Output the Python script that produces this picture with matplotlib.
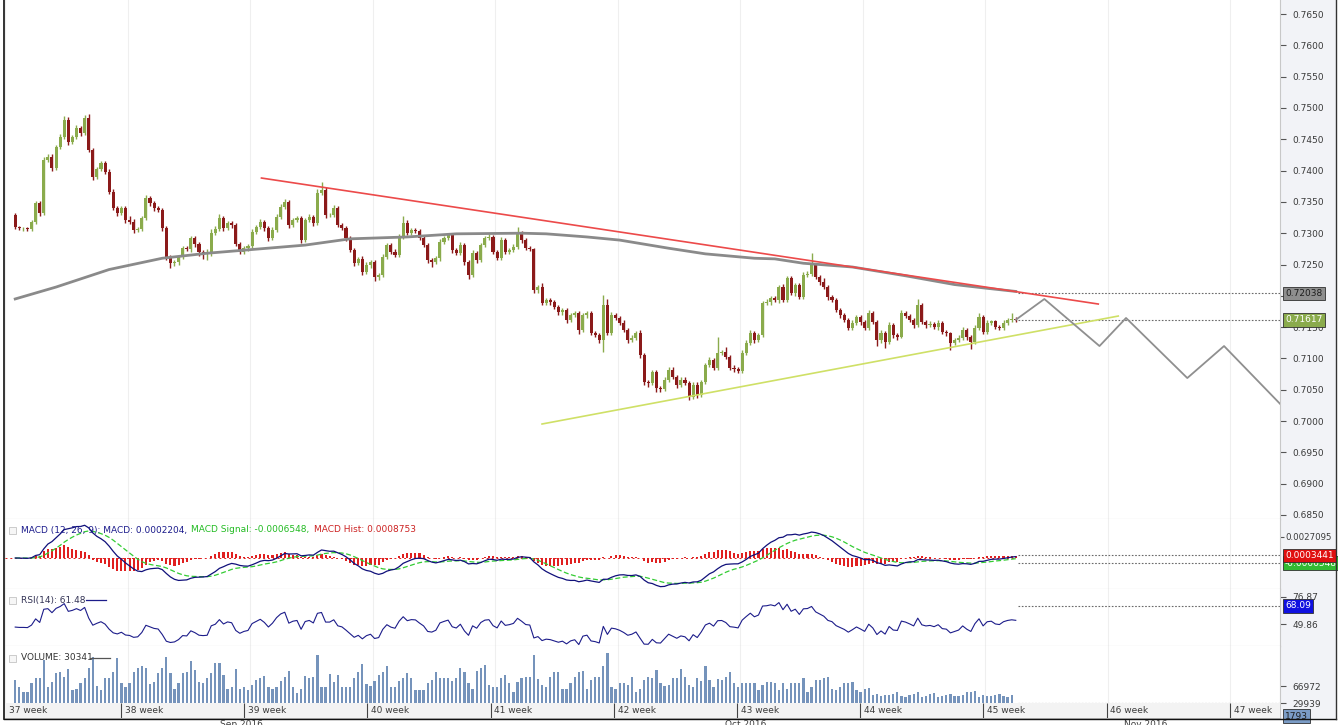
import numpy as np
import pandas as pd
import matplotlib
matplotlib.use("Agg")
import matplotlib.pyplot as plt
import matplotlib.transforms as mtransforms
from matplotlib.patches import Rectangle
from matplotlib.lines import Line2D

# 4H candles, prices in pips (x 1e-4)
first_open = 7329
closes = [
    7310, 7308, 7308, 7307, 7318, 7348, 7332, 7417, 7422, 7404,
    7438, 7454, 7481, 7446, 7454, 7468, 7460, 7484, 7433, 7390,
    7402, 7412, 7398, 7366, 7340, 7332, 7340, 7321, 7318, 7305,
    7307, 7324, 7356, 7348, 7340, 7337, 7308, 7262, 7252, 7254,
    7262, 7276, 7274, 7292, 7283, 7270, 7268, 7269, 7300, 7306,
    7324, 7308, 7316, 7313, 7283, 7270, 7276, 7279, 7302, 7310,
    7318, 7308, 7292, 7305, 7326, 7342, 7350, 7313, 7321, 7324,
    7289, 7321, 7326, 7316, 7364, 7369, 7329, 7329, 7340, 7313,
    7308, 7292, 7273, 7252, 7259, 7238, 7249, 7254, 7230, 7233,
    7262, 7281, 7270, 7265, 7294, 7316, 7300, 7305, 7304, 7292,
    7281, 7257, 7254, 7260, 7286, 7292, 7297, 7273, 7268, 7281,
    7254, 7233, 7268, 7257, 7281, 7292, 7294, 7270, 7260, 7289,
    7270, 7273, 7278, 7300, 7289, 7276, 7274, 7209, 7214, 7188,
    7193, 7190, 7182, 7174, 7177, 7161, 7169, 7172, 7145, 7169,
    7172, 7141, 7137, 7129, 7185, 7141, 7169, 7165, 7157, 7145,
    7129, 7133, 7141, 7106, 7062, 7061, 7078, 7053, 7051, 7066,
    7082, 7070, 7058, 7066, 7061, 7038, 7058, 7042, 7062, 7090,
    7098, 7085, 7109, 7110, 7102, 7085, 7083, 7080, 7109, 7125,
    7141, 7129, 7137, 7188, 7190, 7196, 7193, 7214, 7193, 7228,
    7204, 7217, 7198, 7233, 7235, 7249, 7230, 7222, 7214, 7198,
    7193, 7177, 7169, 7161, 7149, 7157, 7166, 7158, 7149, 7172,
    7158, 7129, 7141, 7126, 7153, 7137, 7135, 7172, 7168, 7161,
    7153, 7185, 7158, 7153, 7155, 7150, 7157, 7142, 7140, 7125,
    7129, 7133, 7145, 7134, 7126, 7149, 7166, 7142, 7157, 7159,
    7150, 7148, 7157, 7161, 7163, 7161.7,
]
wick_up = [
    3, 2, 2, 2, 3, 4, 3, 4, 5, 4, 3, 4, 6, 4, 3, 5, 3, 4, 6, 3,
    3, 4, 3, 5, 4, 3, 4, 3, 6, 4, 3, 4, 5, 3, 4, 3, 3, 4, 3, 3,
    3, 4, 3, 4, 3, 3, 3, 5, 6, 5, 6, 3, 4, 3, 3, 3, 3, 4, 5, 3,
    4, 3, 4, 5, 4, 5, 4, 3, 3, 4, 3, 4, 4, 3, 6, 13, 4, 3, 5, 3,
    3, 3, 3, 4, 3, 4, 5, 3, 3, 4, 4, 3, 3, 4, 5, 12, 5, 4, 3, 3,
    4, 3, 4, 3, 4, 3, 3, 4, 3, 5, 3, 4, 5, 3, 4, 3, 4, 3, 3, 5,
    3, 4, 4, 10, 4, 3, 4, 3, 4, 6, 3, 4, 3, 4, 3, 3, 4, 3, 3, 4,
    4, 3, 3, 3, 16, 10, 5, 4, 3, 4, 3, 4, 3, 4, 3, 4, 4, 3, 3, 4,
    4, 5, 3, 4, 5, 3, 4, 5, 4, 3, 4, 3, 25, 3, 8, 3, 4, 3, 4, 5,
    4, 3, 3, 4, 5, 4, 3, 4, 5, 4, 4, 3, 4, 5, 4, 19, 3, 4, 6, 3,
    3, 3, 4, 3, 3, 4, 4, 3, 3, 5, 4, 3, 4, 3, 5, 4, 3, 6, 4, 3,
    3, 10, 4, 3, 4, 3, 4, 3, 3, 3, 3, 4, 5, 3, 4, 5, 6, 3, 4, 3,
    3, 3, 4, 3, 10, 3,
]
wick_dn = [
    3, 3, 4, 3, 3, 3, 4, 3, 4, 4, 3, 3, 4, 5, 3, 3, 4, 3, 3, 5,
    4, 3, 3, 4, 3, 4, 3, 4, 3, 4, 3, 3, 3, 4, 4, 3, 5, 4, 8, 4,
    4, 3, 3, 4, 5, 6, 9, 10, 6, 3, 3, 4, 3, 4, 3, 4, 3, 4, 3, 3,
    3, 4, 5, 3, 3, 4, 3, 4, 3, 3, 4, 3, 3, 4, 3, 3, 4, 3, 3, 3,
    3, 4, 3, 4, 3, 5, 3, 4, 6, 5, 3, 3, 4, 3, 3, 4, 3, 3, 4, 3,
    3, 4, 8, 3, 4, 3, 3, 4, 3, 3, 4, 6, 3, 4, 3, 3, 3, 4, 3, 3,
    3, 4, 3, 3, 4, 3, 3, 4, 4, 3, 3, 4, 3, 4, 5, 4, 3, 3, 6, 3,
    4, 4, 3, 4, 19, 4, 3, 3, 4, 3, 4, 3, 3, 5, 4, 6, 4, 7, 4, 3,
    3, 3, 5, 4, 4, 4, 3, 5, 3, 3, 3, 4, 3, 4, 3, 3, 4, 4, 3, 3,
    3, 4, 3, 3, 3, 4, 3, 4, 3, 3, 3, 4, 3, 3, 3, 4, 3, 4, 3, 4,
    3, 3, 4, 3, 4, 3, 3, 4, 3, 3, 3, 9, 4, 10, 3, 4, 5, 3, 4, 3,
    4, 3, 3, 4, 3, 3, 4, 3, 4, 12, 4, 3, 3, 4, 11, 3, 4, 3, 3, 3,
    3, 3, 3, 4, 3, 3,
]
# volume in thousands
volume_k = [
    81, 66, 55, 55, 73, 86, 86, 124, 66, 77, 95, 99, 88, 104, 59, 60, 75, 86, 106, 131,
    68, 59, 86, 86, 99, 128, 73, 65, 73, 99, 106, 110, 106, 72, 77, 95, 106, 131, 95, 62,
    73, 95, 99, 123, 102, 77, 73, 86, 95, 117, 117, 91, 62, 66, 104, 62, 66, 59, 70, 81,
    84, 89, 66, 60, 66, 79, 88, 101, 65, 53, 62, 89, 86, 88, 135, 66, 66, 93, 77, 91,
    66, 66, 65, 84, 99, 115, 72, 68, 79, 92, 99, 110, 65, 66, 79, 84, 95, 84, 59, 59,
    59, 73, 81, 99, 86, 84, 84, 79,
    84, 106, 99, 73, 62, 101, 106, 113, 70, 66, 66, 84, 91, 73, 55, 77, 84, 88, 88, 135,
    82, 70, 66, 88, 97, 97, 60, 62, 73, 88, 97, 101, 60, 81, 88, 88, 110, 140, 66, 62,
    73, 75, 70, 88, 55, 62, 81, 88, 84, 102, 73, 68, 70, 84, 86, 104, 88, 70, 66, 86,
    79, 111, 81, 66, 82, 81, 88, 97, 73, 66, 73, 73, 75, 75, 59, 70, 77, 77, 73, 59,
    73, 62, 73, 73, 73, 86, 55, 66, 81, 81, 84, 88, 62, 59, 66, 73, 73, 77, 59, 55,
    62, 64, 48, 51, 46, 48, 48, 49, 55, 46, 44, 48, 51, 55, 44, 46, 49, 53, 43, 46,
    48, 51, 46, 46, 48, 54, 55, 57, 44, 48, 46, 46, 48, 51, 46, 43, 48, 30.341,
]

# moving average (bar index, price pips)
ma_idx = [0, 10, 23, 36, 47, 71, 82, 96, 108, 124, 130, 140, 148, 160, 169, 181, 186, 193, 205, 218, 230, 238, 245]
ma_val = [7195, 7214, 7242, 7260, 7268, 7281, 7291, 7294, 7299, 7300, 7299, 7294, 7289, 7276, 7267, 7260, 7259, 7252, 7246, 7232, 7218, 7212, 7207]

# drawn objects
red_line_idx = [60.3, 265.2]
red_line_val = [0.73881, 0.71869]
green_line_idx = [129.0, 270.1]
green_line_val = [0.69953, 0.71677]
zz_idx = [245, 252, 265.5, 272, 287, 296, 310]
zz_val = [0.71617, 0.71949, 0.71198, 0.71646, 0.70687, 0.71198, 0.70256]

week_pos = [-2.5, 27.5, 57.5, 87.5, 117.5, 147.5, 177.5, 207.5, 237.5, 267.5, 297.5]
week_lbl = ["37 week", "38 week", "39 week", "40 week", "41 week", "42 week",
            "43 week", "44 week", "45 week", "46 week", "47 week"]
month_pos = [56.7, 179.6, 276.9]
month_lbl = ["Sep 2016", "Oct 2016", "Nov 2016"]

price_ticks = [0.6850 + 0.005 * k for k in range(17)]

BULL = "#8aab4c"
BEAR = "#8b1a1a"
FS = 6.5
TXT = "#3a3a3a"
XL = (-0.75, 309.7)

W, H = 1338, 725
fig = plt.figure(figsize=(W / 100, H / 100), dpi=100)
fig.patch.set_facecolor("white")
fig.patches.append(Rectangle((1280 / W, 1 - 719 / H), 56 / W, 719 / H, transform=fig.transFigure,
                             facecolor="#f2f3f7", edgecolor="none", zorder=-5))


def pax(x0, y0, x1, y1):
    a = fig.add_axes([x0 / W, 1 - y1 / H, (x1 - x0) / W, (y1 - y0) / H])
    a.set_xlim(XL)
    a.yaxis.tick_right()
    a.tick_params(axis="y", direction="out", length=4, width=0.8, color="#555555",
                  labelsize=FS, labelcolor=TXT, pad=5)
    a.set_xticks(week_pos)
    a.tick_params(axis="x", length=0, labelbottom=False)
    a.grid(axis="x", color="#efefef", lw=0.8)
    a.set_axisbelow(True)
    for s in ["top", "left"]:
        a.spines[s].set_visible(False)
    a.spines["right"].set_color("#c8c8c8")
    a.spines["bottom"].set_color("#bdbdbd")
    a.spines["bottom"].set_linewidth(0.8)
    return a


def box(a, y, text, fc, tc, z=6):
    tr = mtransforms.blended_transform_factory(a.transAxes, a.transData)
    a.text(1.0 + 5 / 1275, y, text, transform=tr, ha="left", va="center", fontsize=FS,
           color=tc, clip_on=False, zorder=z,
           bbox=dict(boxstyle="square,pad=0.25", fc=fc, ec="#303030", lw=0.6))


def legend(a, y_px, parts):
    tr = mtransforms.blended_transform_factory(a.transAxes, fig.transFigure)
    t = a.text(16 / 1275, 1 - y_px / H, parts[0][0], transform=tr, fontsize=FS,
               color=parts[0][1], va="center", ha="left", zorder=7)
    for txt, col in parts[1:]:
        t = a.annotate(txt, xy=(1, 0.5), xycoords=t, xytext=(3, 0), textcoords="offset points",
                       fontsize=FS, color=col, va="center", ha="left", zorder=7)
    fig.patches.append(Rectangle((9 / W, 1 - (y_px + 4) / H), 7 / W, 7 / H, transform=fig.transFigure,
                                 facecolor="#f6f6f6", edgecolor="#c4c4c4", lw=0.6, zorder=8))


idx = np.arange(len(closes))
c = np.array(closes, dtype=float) / 1e4
o = np.r_[first_open / 1e4, c[:-1]]
hi = np.maximum(o, c) + np.array(wick_up) / 1e4
lo = np.minimum(o, c) - np.array(wick_dn) / 1e4
cols = np.where(c >= o, BULL, BEAR)

# main price panel
ax = pax(5, 0, 1280, 519)
ax.set_ylim(0.68436, 0.76724)
ax.set_yticks(price_ticks)
ax.set_yticklabels([f"{t:.4f}" for t in price_ticks])
ax.vlines(idx, lo, hi, colors=cols, lw=1, zorder=2)
ax.bar(idx, np.maximum(np.abs(c - o), 0.00008), bottom=np.minimum(o, c), width=0.75,
       color=cols, lw=0, zorder=3)
ax.plot(ma_idx, np.array(ma_val) / 1e4, color="#8a8a8a", lw=2, zorder=4)
ax.plot(red_line_idx, red_line_val, color="#ec4a4a", lw=1.2, zorder=5)
ax.plot(green_line_idx, green_line_val, color="#cfe066", lw=1.2, zorder=5)
ax.plot(zz_idx, zz_val, color="#8f8f8f", lw=1.3, zorder=5)
ax.hlines([0.72038, 0.71617], idx[-1] + 0.5, XL[1], colors="#6a6a6a", lw=0.8,
          linestyles=(0, (1.5, 1.5)), zorder=4)
box(ax, 0.72038, "0.72038", "#8e8e8e", "#1e1e1e")
box(ax, 0.71617, "0.71617", BULL, "white")

# MACD panel
s = pd.Series(c)
macd = s.ewm(span=12, adjust=False).mean() - s.ewm(span=26, adjust=False).mean()
signal = macd.ewm(span=9, adjust=False).mean()
hist = macd - signal
am = pax(5, 519, 1280, 589)
am.set_ylim(-0.0040, 0.00503)
am.set_yticks([0.0027095])
am.set_yticklabels(["0.0027095"])
am.tick_params(axis="y", length=3, pad=1, labelsize=6.2)
am.bar(idx, hist, width=0.5, color="#e02020", lw=0, zorder=2)
am.axhline(0, xmax=(idx[-1] - XL[0]) / (XL[1] - XL[0]), color="#e02020", lw=0.7,
           ls=(0, (2, 3)), zorder=1)
am.plot(idx, signal, color="#33cc33", lw=0.9, ls=(0, (4, 2)), zorder=3)
am.plot(idx, macd, color="#10107a", lw=0.9, zorder=4)
am.hlines([0.0003441, -0.0006548], idx[-1] + 0.5, XL[1], colors="#6a6a6a", lw=0.8,
          linestyles=(0, (1.5, 1.5)))
box(am, -0.0006548, "-0.0006548", "#33bb33", "white", z=5)
box(am, 0.0003441, "0.0003441", "#e01010", "white", z=6)

# RSI panel
chg = np.diff(np.r_[first_open / 1e4, c])
seed = np.abs(chg[:14]).mean() / 2
ag, al, rsi = seed, seed, []
for d in chg:
    ag = (ag * 13 + max(d, 0)) / 14
    al = (al * 13 + max(-d, 0)) / 14
    rsi.append(100 - 100 / (1 + ag / al))
ar = pax(5, 589, 1280, 646)
ar.set_ylim(27.87, 84.87)
ar.set_yticks([76.87, 49.86])
ar.set_yticklabels(["76.87", "49.86"])
ar.plot(idx, rsi, color="#1c1c8a", lw=0.8)
ar.hlines([68.09], idx[-1] + 0.5, XL[1], colors="#6a6a6a", lw=0.8, linestyles=(0, (1.5, 1.5)))
box(ar, 68.09, "68.09", "#1010e0", "white")

# volume panel
vol = np.array(volume_k) * 1000
av = pax(5, 646, 1280, 718)
av.set_ylim(-2178, 154600)
av.set_yticks([66972, 29939])
av.set_yticklabels(["66972", "29939"])
av.bar(idx, vol, width=0.55, color="#7593bb", lw=0)
av.hlines([vol[-1]], idx[-1] + 0.5, XL[1], colors="#6a6a6a", lw=0.8, linestyles=(0, (1.5, 1.5)))
box(av, 1793, "1793", "#7b9cc6", "#1e1e1e")

# legends
legend(am, 530, [("MACD (12, 26, 9): MACD: 0.0002204,", "#1c1c8c"),
                 ("MACD Signal: -0.0006548,", "#22bb22"),
                 ("MACD Hist: 0.0008753", "#cc2222")])
legend(ar, 600, [("RSI(14): 61.48", "#333355")])
legend(av, 658, [("VOLUME: 30341", "#333333")])
fig.lines.append(Line2D([86 / W, 106 / W], [1 - 600 / H] * 2, color="#1c1c8a", lw=0.9,
                        transform=fig.transFigure))
fig.lines.append(Line2D([90 / W, 110 / W], [1 - 658 / H] * 2, color="#555555", lw=0.9,
                        transform=fig.transFigure))

# week label strip
ax_s = fig.add_axes([5 / W, 1 - 718 / H, 1275 / W, 15 / H])
ax_s.set_xlim(XL)
ax_s.set_ylim(0, 1)
ax_s.set_facecolor("#f3f3f3")
ax_s.set_xticks([])
ax_s.set_yticks([])
for sp in ax_s.spines.values():
    sp.set_visible(False)
ax_s.vlines(week_pos, 0, 1, colors="#444444", lw=0.8)
for p, lbl in zip(week_pos, week_lbl):
    ax_s.text(max(p, XL[0]) + 0.9, 0.5, lbl, fontsize=FS, color=TXT, va="center", ha="left")

for p, lbl in zip(month_pos, month_lbl):
    xf = (5 + (p - XL[0]) / (XL[1] - XL[0]) * 1275) / W
    fig.text(xf, 1 - 720 / H, lbl, fontsize=FS, color=TXT, ha="center", va="top")

# frame lines
fig.lines.append(Line2D([4 / W, 4 / W], [1 - 719 / H, 1], color="#111111", lw=1.2, transform=fig.transFigure))
fig.lines.append(Line2D([4 / W, 1336 / W], [1 - 719 / H] * 2, color="#111111", lw=1.0, transform=fig.transFigure))
fig.lines.append(Line2D([1336 / W, 1336 / W], [1 - 719 / H, 1], color="#333333", lw=1.0, transform=fig.transFigure))

fig.savefig("out.png", dpi=100)
